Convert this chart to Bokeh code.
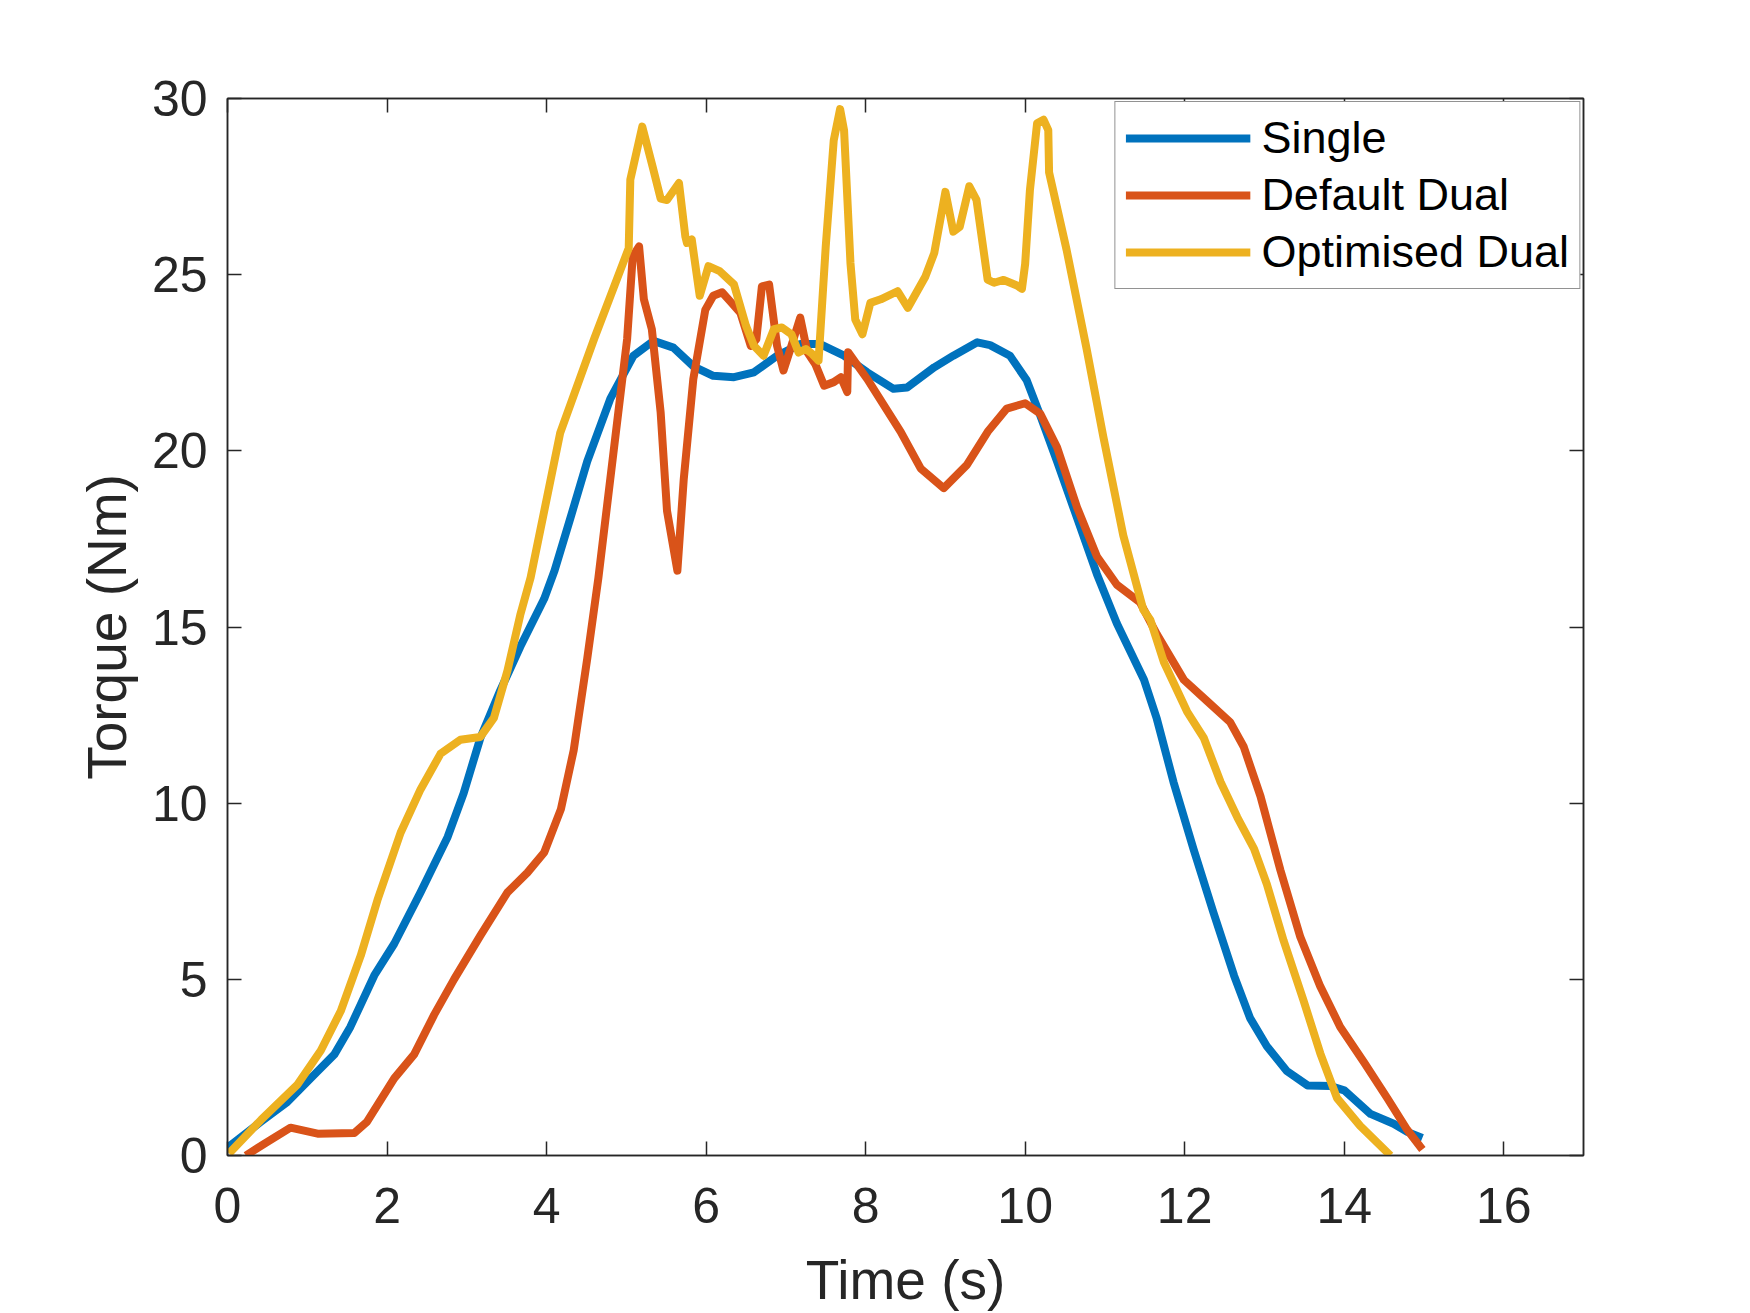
from bokeh.plotting import figure
from bokeh.models import Range1d, LinearAxis, FixedTicker
from bokeh.embed import file_html
from bokeh.resources import INLINE

# ---- data ----
single_t = [0.0, 0.42, 0.75, 1.09, 1.34, 1.54, 1.84, 2.09, 2.42, 2.76, 2.96, 3.17, 3.42, 3.67,
            3.97, 4.1, 4.3, 4.51, 4.80, 5.09, 5.34, 5.59, 5.84, 6.09, 6.35, 6.60, 6.89, 7.18,
            7.43, 7.73, 8.02, 8.35, 8.52, 8.86, 9.10, 9.40, 9.56, 9.81, 10.02, 10.19,
            10.4, 10.65, 10.9, 11.15, 11.49, 11.65, 11.86, 12.11, 12.36, 12.62, 12.82,
            13.03, 13.28, 13.54, 13.83, 14.0, 14.33, 14.62, 14.79, 14.98]
single_v = [0.22, 0.96, 1.52, 2.3, 2.87, 3.65, 5.11, 6.01, 7.47, 9.04, 10.28, 11.85, 13.2, 14.44,
            15.8, 16.6, 18.1, 19.7, 21.48, 22.7, 23.12, 22.93, 22.4, 22.13, 22.09, 22.23, 22.7,
            23.03, 23.03, 22.7, 22.23, 21.76, 21.8, 22.37, 22.7, 23.08, 23.0, 22.7, 22.0,
            21.0, 19.7, 18.1, 16.5, 15.1, 13.5, 12.4, 10.6, 8.7, 6.9, 5.1, 3.9, 3.1, 2.4,
            1.99, 1.97, 1.85, 1.18, 0.9, 0.67, 0.5]

default_t = [0.23, 0.5, 0.79, 1.13, 1.59, 1.75, 2.09, 2.34, 2.59, 2.84, 3.17, 3.51, 3.76,
             3.97, 4.18, 4.34, 4.51, 4.65, 5.01, 5.08, 5.16, 5.22, 5.32, 5.43, 5.51, 5.64,
             5.72, 5.84, 5.99, 6.09, 6.20, 6.30, 6.43, 6.56, 6.63, 6.70, 6.79, 6.89, 6.97,
             7.07, 7.18, 7.27, 7.37, 7.48, 7.60, 7.69, 7.77, 7.78, 8.02, 8.44, 8.69, 8.98,
             9.27, 9.53, 9.77, 10.0, 10.19, 10.4, 10.65, 10.9, 11.15, 11.44, 11.65, 11.99,
             12.28, 12.57, 12.74, 12.95, 13.2, 13.45, 13.70, 13.95, 14.25, 14.54, 14.79,
             14.98]
default_v = [0.0, 0.39, 0.79, 0.62, 0.64, 0.96, 2.19, 2.87, 3.99, 5.0, 6.24, 7.47, 8.03,
             8.6, 9.83, 11.5, 14.1, 16.4, 23.17, 25.52, 25.8, 24.3, 23.45, 21.1, 18.3, 16.6,
             19.2, 22.04, 24.0, 24.4, 24.5, 24.25, 23.92, 22.98, 23.17, 24.67, 24.72, 22.98,
             22.28, 22.98, 23.78, 22.8, 22.46, 21.85, 21.95, 22.09, 21.67, 22.8, 22.04, 20.54,
             19.5, 18.94, 19.6, 20.54, 21.2, 21.35, 21.05, 20.1, 18.4, 17.0, 16.2, 15.7,
             14.8, 13.5, 12.9, 12.3, 11.6, 10.2, 8.1, 6.2, 4.8, 3.65, 2.64, 1.63, 0.73, 0.17]

optimised_t = [0.02, 0.42, 0.88, 1.17, 1.42, 1.67, 1.88, 2.17, 2.42, 2.67, 2.92, 3.17, 3.34,
               3.51, 3.67, 3.80, 4.17, 4.6, 5.03, 5.05, 5.20, 5.33, 5.43, 5.51, 5.66, 5.74,
               5.76, 5.82, 5.92, 6.03, 6.17, 6.35, 6.50, 6.60, 6.72, 6.85, 6.95, 7.07, 7.16,
               7.25, 7.33, 7.41, 7.50, 7.60, 7.68, 7.73, 7.81, 7.87, 7.96, 8.06, 8.19, 8.40,
               8.53, 8.75, 8.86, 9.00, 9.10, 9.18, 9.30, 9.39, 9.53, 9.61, 9.73, 9.89, 9.96,
               10.0, 10.06, 10.15, 10.23, 10.29, 10.30, 10.52, 10.77, 10.98, 11.23, 11.48,
               11.57, 11.74, 12.03, 12.24, 12.45, 12.66, 12.87, 13.03, 13.24, 13.49, 13.70,
               13.91, 14.2, 14.58]
optimised_v = [0.06, 1.01, 2.02, 2.98, 4.1, 5.67, 7.25, 9.16, 10.39, 11.4, 11.8, 11.88, 12.42,
               13.76, 15.34, 16.4, 20.5, 23.2, 25.75, 27.7, 29.2, 28.06, 27.16, 27.12, 27.6,
               26.08, 25.9, 26.0, 24.4, 25.24, 25.1, 24.72, 23.55, 22.98, 22.7, 23.45, 23.5,
               23.31, 22.79, 22.89, 22.75, 22.56, 25.8, 28.81, 29.7, 29.09, 25.33, 23.73,
               23.31, 24.2, 24.3, 24.53, 24.06, 24.95, 25.61, 27.35, 26.22, 26.36, 27.51,
               27.12, 24.86, 24.77, 24.85, 24.7, 24.6, 25.3, 27.4, 29.3, 29.4, 29.1, 27.9,
               25.7, 22.9, 20.4, 17.6, 15.5, 15.2, 14.0, 12.6, 11.85, 10.6, 9.6, 8.7, 7.7,
               6.1, 4.4, 2.9, 1.63, 0.84, 0.0]

x_ticks = [0, 2, 4, 6, 8, 10, 12, 14, 16]
y_ticks = [0, 5, 10, 15, 20, 25, 30]
series_names = ["Single", "Default Dual", "Optimised Dual"]
series_colors = ["#0072BD", "#D95319", "#EDB120"]

FONT = "Liberation Sans"
AXC = "#262626"

p = figure(width=1746, height=1313, output_backend="svg", toolbar_location=None,
           x_range=Range1d(0, 17), y_range=Range1d(0, 30),
           min_border_left=227, min_border_right=163, min_border_top=98,
           min_border_bottom=157, background_fill_color="white",
           border_fill_color="white")
p.xgrid.visible = False
p.ygrid.visible = False
p.outline_line_color = AXC
p.outline_line_width = 1.5

for ax, ticks in ((p.xaxis[0], x_ticks), (p.yaxis[0], y_ticks)):
    ax.ticker = FixedTicker(ticks=ticks)
    ax.axis_line_color = AXC
    ax.axis_line_width = 1.5
    ax.major_tick_line_color = AXC
    ax.major_tick_line_width = 1.5
    ax.major_tick_in = 14
    ax.major_tick_out = 0
    ax.minor_tick_line_color = None
    ax.major_label_text_font = FONT
    ax.major_label_text_font_size = "50px"
    ax.major_label_text_color = AXC
    ax.axis_label_text_font = FONT
    ax.axis_label_text_font_size = "55px"
    ax.axis_label_text_font_style = "normal"
    ax.axis_label_text_color = AXC

p.xaxis[0].major_label_standoff = 32
p.xaxis[0].axis_label = "Time (s)"
p.xaxis[0].axis_label_standoff = 23
p.xaxis[0].axis_label_text_line_height = 1.0
p.yaxis[0].major_label_standoff = 20
p.yaxis[0].axis_label = "Torque (Nm)"
p.yaxis[0].axis_label_standoff = 11

for side, ticks in (("above", x_ticks), ("right", y_ticks)):
    ax = LinearAxis(ticker=FixedTicker(ticks=ticks))
    ax.axis_line_color = AXC
    ax.axis_line_width = 1.5
    ax.major_tick_line_color = AXC
    ax.major_tick_line_width = 1.5
    ax.major_tick_in = 14
    ax.major_tick_out = 0
    ax.minor_tick_line_color = None
    ax.major_label_text_font_size = "0px"
    ax.major_label_text_alpha = 0
    p.add_layout(ax, side)

xs = [single_t, default_t, optimised_t]
ys = [single_v, default_v, optimised_v]
for t, v, name, col in zip(xs, ys, series_names, series_colors):
    p.line(t, v, line_color=col, line_width=8, line_join="round",
           legend_label=name)

lg = p.legend[0]
lg.location = "top_right"
lg.margin = 3
lg.padding = 10
lg.spacing = 5
lg.glyph_width = 125
lg.glyph_height = 52
lg.label_height = 52
lg.label_standoff = 11
lg.label_text_font = FONT
lg.label_text_font_size = "45px"
lg.label_text_color = "black"
lg.border_line_color = AXC
lg.border_line_width = 1.5
lg.background_fill_alpha = 1.0

open("out.html", "w").write(file_html(p, INLINE))
